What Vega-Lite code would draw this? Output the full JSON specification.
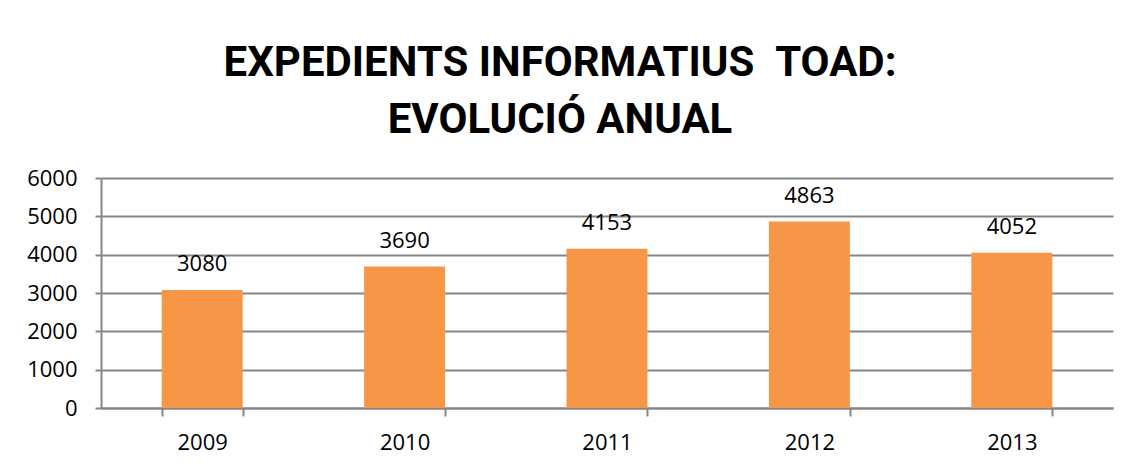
{
  "$schema": "https://vega.github.io/schema/vega-lite/v6.json",
  "width": 1012,
  "height": 230,
  "autosize": {"type": "none"},
  "padding": {"left": 101, "top": 178, "right": 19, "bottom": 62},
  "background": "white",
  "title": {
    "text": ["EXPEDIENTS INFORMATIUS \u00a0TOAD:", "EVOLUCIÓ ANUAL"],
    "font": "Roboto",
    "fontWeight": "bold",
    "fontSize": 42,
    "color": "black",
    "anchor": "middle",
    "lineHeight": 57,
    "offset": 25,
    "dx": -47
  },
  "config": {"view": {"stroke": null}},
  "data": {
    "values": [
      {"year": "2009", "value": 3080},
      {"year": "2010", "value": 3690},
      {"year": "2011", "value": 4153},
      {"year": "2012", "value": 4863},
      {"year": "2013", "value": 4052}
    ]
  },
  "encoding": {
    "x": {
      "field": "year",
      "type": "ordinal",
      "scale": {"paddingInner": 0.6, "paddingOuter": 0.3},
      "axis": {
        "title": null,
        "labelAngle": 0,
        "tickBand": "extent",
        "ticks": true,
        "tickSize": 8,
        "tickWidth": 2,
        "tickColor": "#868686",
        "domainColor": "#868686",
        "domainWidth": 2,
        "labelFont": "Open Sans",
        "labelFontSize": 22,
        "labelColor": "black",
        "labelPadding": 16
      }
    },
    "y": {
      "field": "value",
      "type": "quantitative",
      "scale": {"domain": [0, 6000], "nice": false},
      "axis": {
        "title": null,
        "format": "d",
        "values": [0, 1000, 2000, 3000, 4000, 5000, 6000],
        "grid": true,
        "gridColor": "#868686",
        "gridWidth": 2,
        "domainColor": "#868686",
        "domainWidth": 2,
        "tickColor": "#868686",
        "tickSize": 6,
        "tickWidth": 2,
        "labelFont": "Open Sans",
        "labelFontSize": 22,
        "labelColor": "black",
        "labelPadding": 18
      }
    }
  },
  "layer": [
    {"mark": {"type": "bar", "color": "#F79646"}},
    {
      "mark": {
        "type": "text",
        "dy": -19,
        "baseline": "alphabetic",
        "font": "Open Sans",
        "fontSize": 22,
        "color": "black"
      },
      "encoding": {"text": {"field": "value", "type": "quantitative", "format": "d"}}
    }
  ]
}
